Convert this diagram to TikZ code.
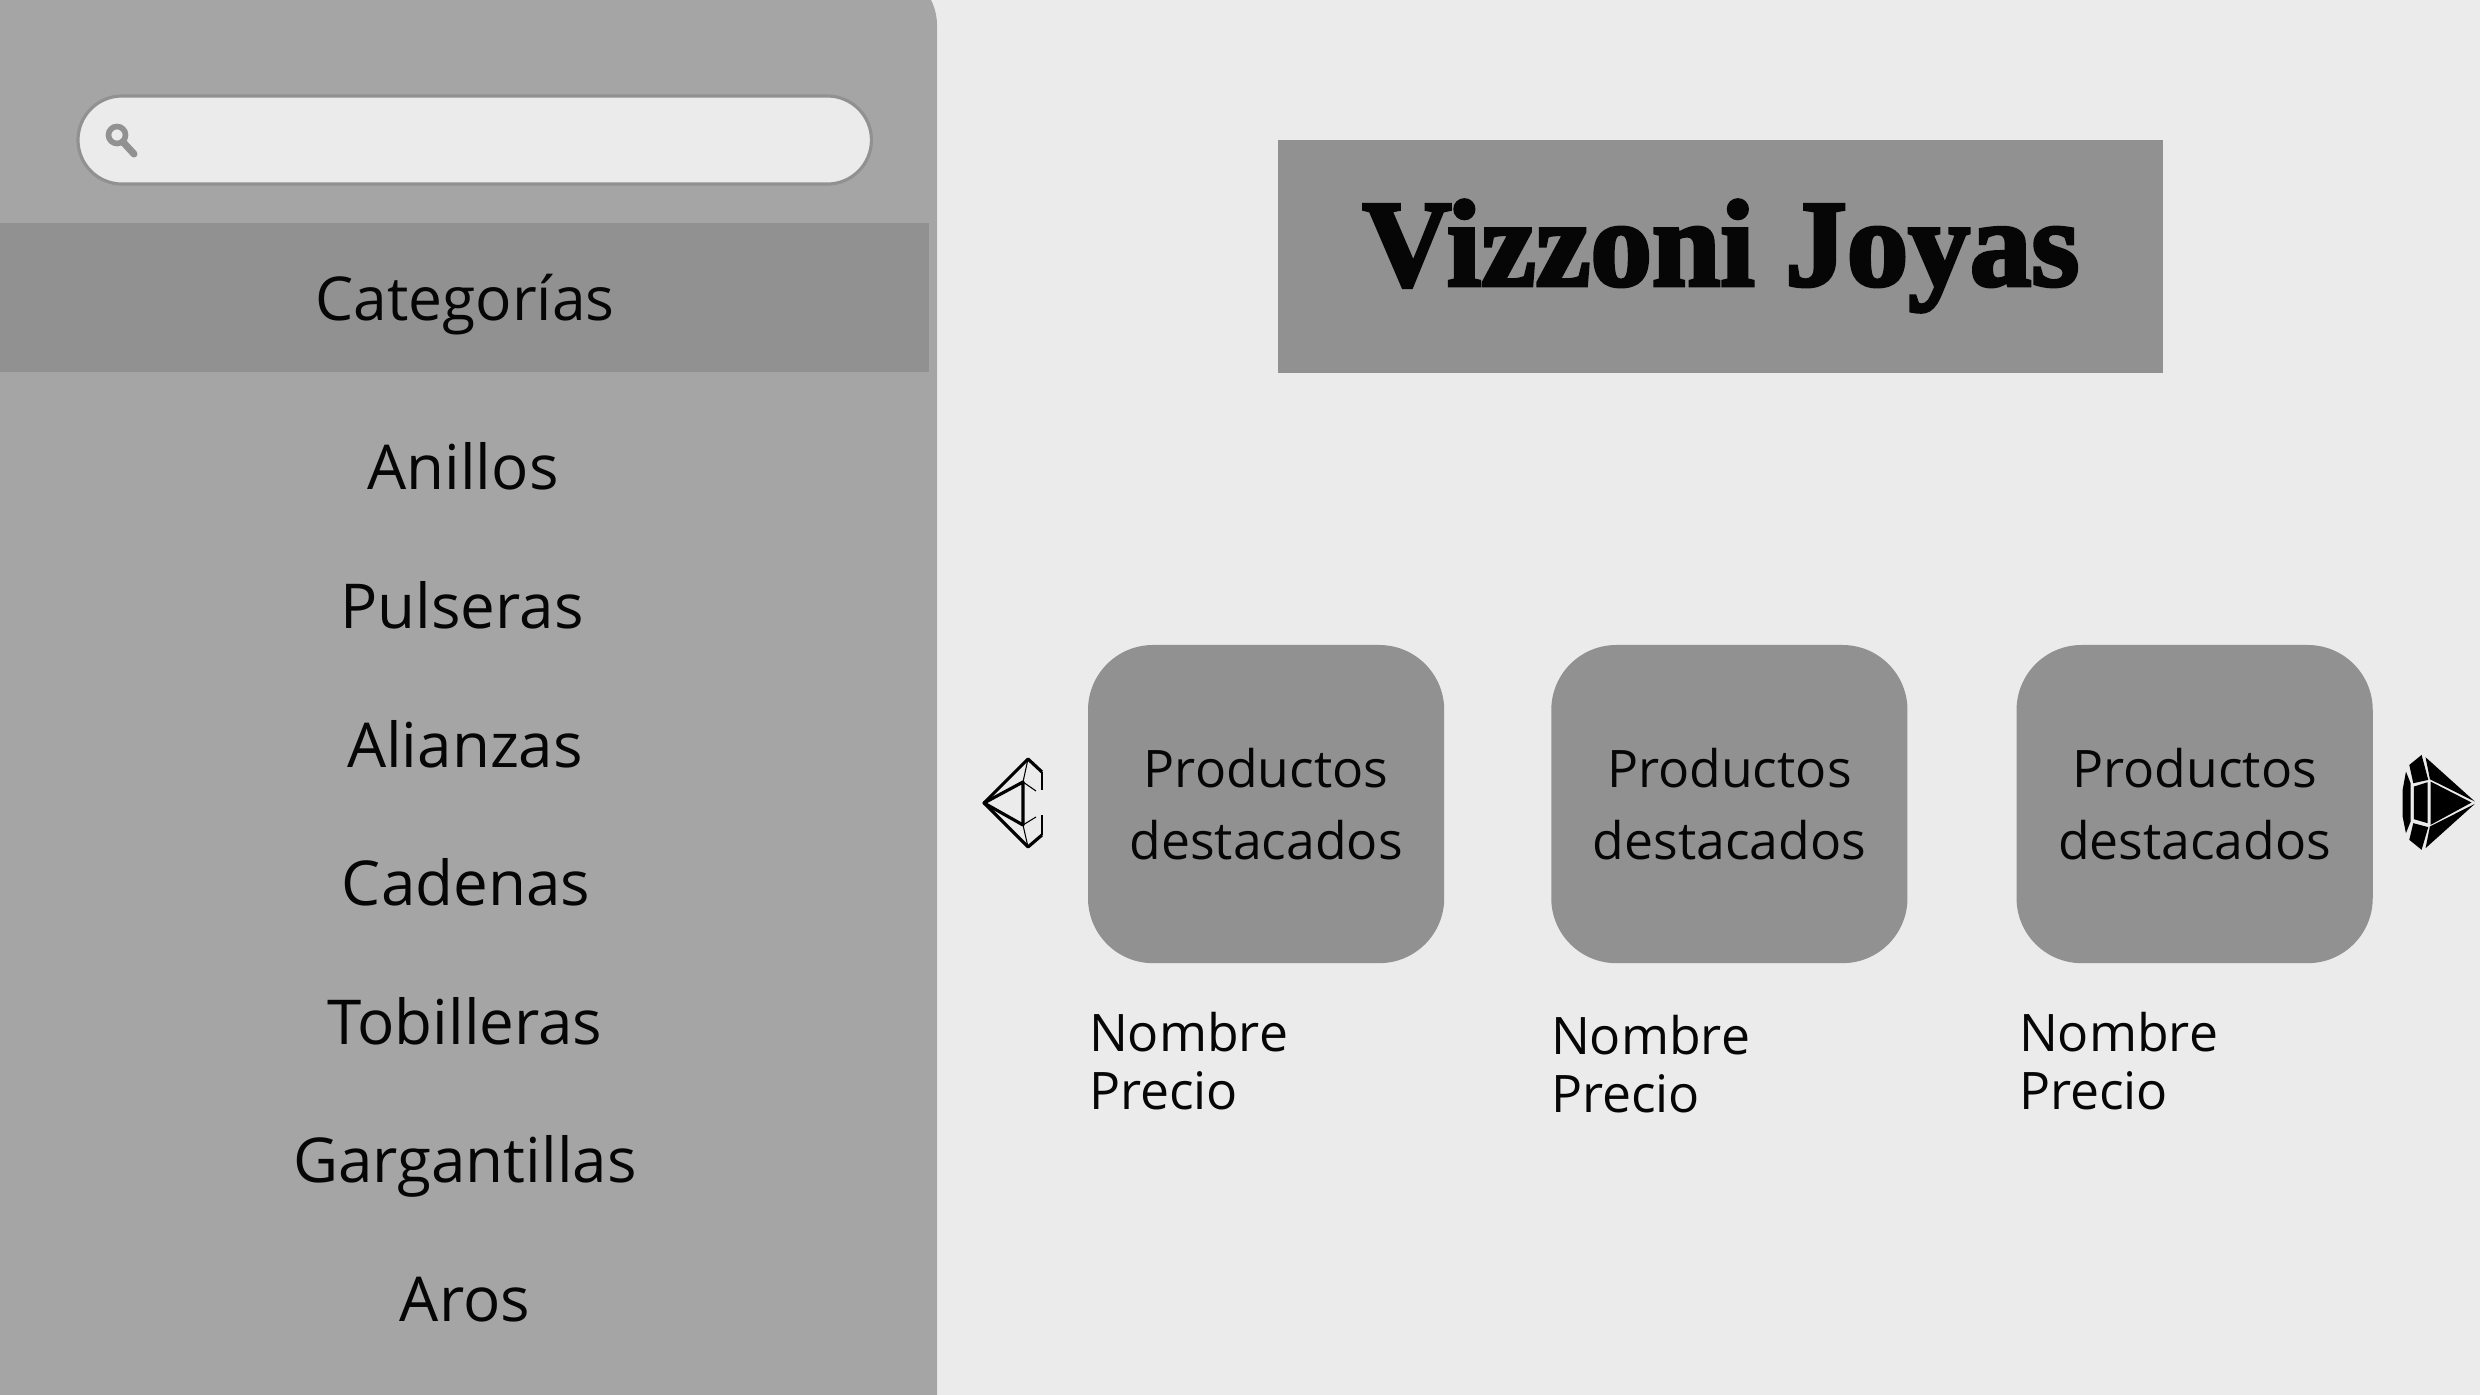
\documentclass[tikz,border=0pt]{standalone}
\usepackage{fontspec}
\usetikzlibrary{positioning}
\setmainfont{Open Sans}
\newfontfamily\titlefont[FakeBold=3]{Liberation Serif Bold}
\definecolor{pagebg}{HTML}{EBEBEB}
\definecolor{sidebg}{HTML}{A5A5A5}
\definecolor{bandbg}{HTML}{919191}
\definecolor{inktext}{HTML}{060607}
\tikzset{
  catitem/.style={font=\fontsize{17.6}{21}\selectfont, text=inktext, inner sep=0pt, anchor=base},
  prodbox/.style={rectangle, rounded corners=0.65cm, fill=bandbg, text=inktext,
                  minimum width=3.56cm, minimum height=3.18cm, inner sep=0pt, align=center,
                  font=\fontsize{14.7}{20.4}\selectfont},
  prodlbl/.style={font=\fontsize{14.7}{16.5}\selectfont, text=inktext, align=left, inner sep=0pt},
  gemline/.style={draw=black, line join=round},
}

\begin{document}
\begin{tikzpicture}[x=0.01cm, y=-0.01cm, every node/.append style={outer sep=0pt}]
\useasboundingbox (0,0) rectangle (2480,1395);
\fill[pagebg] (0,0) rectangle (2480,1395);
\begin{scope}
  \clip (0,0) rectangle (2480,1395);
  \fill[sidebg, rounded corners=0.55cm] (-100,-30) rectangle (937,1500);
\end{scope}
% search
\node[rectangle, rounded corners=0.44cm, draw=bandbg, line width=0.9pt, fill=pagebg,
      minimum width=7.93cm, minimum height=0.88cm, anchor=north west] (searchbar) at (78,96) {};
\draw[bandbg, line width=1.6pt] (117,135) circle (8.5);
\draw[bandbg, line width=2pt, line cap=round] (123,142) -- (134,154);
% categories
\node[rectangle, fill=bandbg, minimum width=9.28cm, minimum height=1.49cm, inner sep=0pt,
      anchor=north west] (catband) at (0,223) {};
\node[catitem, font=\fontsize{17.2}{21}\selectfont] (cattitle) at (465,321) {Categorías};
\node[catitem] (anillos) at (463,490) {Anillos};
\node[catitem] (pulseras) at (462,629) {Pulseras};
\node[catitem] (alianzas) at (465,768) {Alianzas};
\node[catitem] (cadenas) at (466,906) {Cadenas};
\node[catitem] (tobilleras) at (465,1045) {Tobilleras};
\node[catitem] (gargantillas) at (465,1183) {Gargantillas};
\node[catitem] (aros) at (465,1322) {Aros};
% title
\node[rectangle, fill=bandbg, minimum width=8.84cm, minimum height=2.33cm, inner sep=0pt,
      anchor=north west] (titlebox) at (1278,140) {};
\node[text=inktext, inner sep=0pt, font=\titlefont\fontsize{35}{40}\selectfont] (titletext)
  at (1721,256) {Vizzoni Joyas};
% products
\node[prodbox, anchor=north west] (prodone) at (1088,645) {Productos\\destacados};
\node[prodbox, right=1.07cm of prodone] (prodtwo) {Productos\\destacados};
\node[prodbox, right=1.09cm of prodtwo] (prodthree) {Productos\\destacados};
\node[prodlbl, anchor=north west] (nameone) at (1089,1012) {Nombre\\Precio};
\node[prodlbl, anchor=north west] (nametwo) at (1551,1015) {Nombre\\Precio};
\node[prodlbl, anchor=north west] (namethree) at (2019,1012) {Nombre\\Precio};
% left gem
\draw[gemline, line width=0.9pt] (1042,772) -- (1028,759) -- (984,803) -- (1028,847) -- (1042,835);
\draw[gemline, line width=0.9pt] (1023,782) -- (984,803) -- (1023,825) -- cycle;
\draw[gemline, line width=0.3pt] (1028,759) -- (1023,782) -- (1036,791);
\draw[gemline, line width=0.3pt] (1028,847) -- (1023,825) -- (1036,817);
\draw[gemline, line width=0.3pt] (1042,772) -- (1042,790) (1042,815) -- (1042,835);
% right gem
\begin{scope}[shift={(2380,730)}, x=0.00333cm, y=-0.00333cm]
  \fill[black] (137,82) -- (285,215) -- (150,148) -- cycle;
  \fill[black] (152,155) -- (275,218) -- (152,285) -- cycle;
  \fill[black] (137,355) -- (285,222) -- (150,290) -- cycle;
  \fill[black] (88,105) -- (125,75) -- (145,150) -- (100,160) -- cycle;
  \fill[black] (102,170) -- (143,157) -- (143,280) -- (102,268) -- cycle;
  \fill[black] (88,330) -- (100,280) -- (145,292) -- (125,360) -- cycle;
  \fill[black] (78,125) -- (92,160) -- (92,275) -- (78,310) -- (68,260) -- (68,180) -- cycle;
\end{scope}
\end{tikzpicture}
\end{document}
